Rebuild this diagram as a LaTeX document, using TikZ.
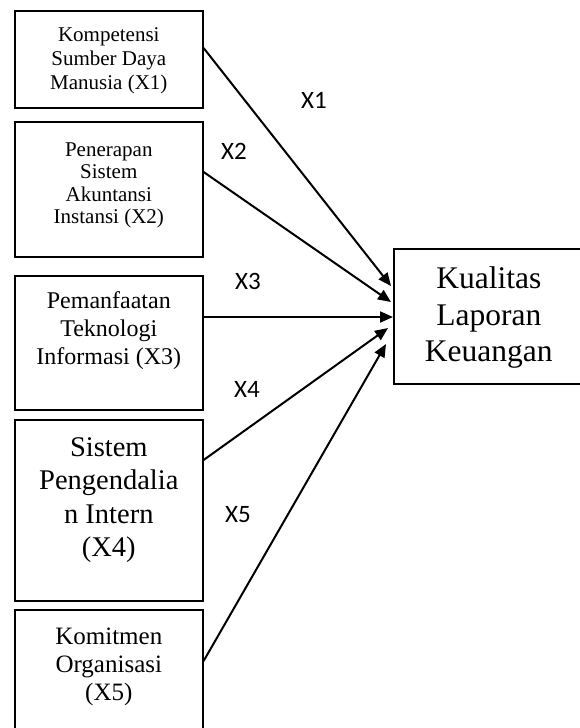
\documentclass[tikz,border=0pt]{standalone}
\usepackage{fontspec}
\setmainfont{Liberation Serif}
\newfontfamily\lblfont{Carlito}
\usetikzlibrary{arrows.meta}
\tikzset{
  boxnode/.style={draw, line width=1.6pt, rectangle, inner sep=0pt, anchor=north west},
  txt/.style={align=center, inner sep=0pt, anchor=north},
  conn/.style={line width=2pt, -{Triangle[length=13pt,width=11pt]}},
  lbl/.style={font=\lblfont\fontsize{25}{29}\selectfont, inner sep=0pt, anchor=base west}
}
\begin{document}
\begin{tikzpicture}[x=1pt,y=-1pt]
\useasboundingbox (0,0) rectangle (579,728);
% boxes
\node[boxnode, minimum width=188pt, minimum height=97pt] (b1) at (14,10) {};
\node[boxnode, minimum width=188pt, minimum height=135pt] (b2) at (14,121) {};
\node[boxnode, minimum width=188pt, minimum height=134pt] (b3) at (14,275) {};
\node[boxnode, minimum width=188pt, minimum height=181pt] (b4) at (14,419) {};
\node[boxnode, minimum width=188pt, minimum height=150pt] (b5) at (14,609) {};
\node[boxnode, minimum width=190pt, minimum height=135pt] (K) at (393,248) {};
% texts
\node[txt, font=\fontsize{21}{24}\selectfont] (t1) at ([yshift=-14.9pt]b1.north)
  {\rule{0pt}{0.8em}Kompetensi\\Sumber Daya\\Manusia (X1)};
\node[txt, font=\fontsize{21}{22.5}\selectfont] (t2) at ([yshift=-18.2pt]b2.north)
  {\rule{0pt}{0.8em}Penerapan\\Sistem\\Akuntansi\\Instansi (X2)};
\node[txt, font=\fontsize{24}{28}\selectfont] (t3) at ([yshift=-14.1pt]b3.north)
  {\rule{0pt}{0.8em}Pemanfaatan\\Teknologi\\Informasi (X3)};
\node[txt, font=\fontsize{28.5}{33.5}\selectfont] (t4) at ([yshift=-14.2pt]b4.north)
  {\rule{0pt}{0.8em}Sistem\\Pengendalia\\n Intern\\(X4)};
\node[txt, font=\fontsize{25}{28}\selectfont] (t5) at ([yshift=-15.3pt]b5.north)
  {\rule{0pt}{0.8em}Komitmen\\Organisasi\\(X5)};
\node[txt, font=\fontsize{31.5}{36.7}\selectfont] (tk) at ([yshift=-15.1pt]K.north)
  {\rule{0pt}{0.8em}Kualitas\\Laporan\\Keuangan};
% connector end points
\coordinate (s1) at (b1.east |- 0,48);
\coordinate (s2) at (b2.east |- 0,172);
\coordinate (s3) at (b3.east |- 0,317);
\coordinate (s4) at (b4.east |- 0,460);
\coordinate (s5) at (b5.east |- 0,661);
\coordinate (e1) at ([xshift=-2pt]K.west |- 0,286);
\coordinate (e2) at ([xshift=-2pt]K.west |- 0,302);
\coordinate (e3) at (K.west |- 0,317);
\coordinate (e4) at ([xshift=-5pt]K.west |- 0,328);
\coordinate (e5) at ([xshift=-7pt]K.west |- 0,344);
\draw[conn] (s1) -- (e1);
\draw[conn] (s2) -- (e2);
\draw[conn] (s3) -- (e3);
\draw[conn] (s4) -- (e4);
\draw[conn] (s5) -- (e5);
% labels
\node[lbl] (l1) at (301,108) {X1};
\node[lbl] (l2) at (221,159) {X2};
\node[lbl] (l3) at (235,289) {X3};
\node[lbl] (l4) at (234,397) {X4};
\node[lbl] (l5) at (225,522) {X5};
\end{tikzpicture}
\end{document}
